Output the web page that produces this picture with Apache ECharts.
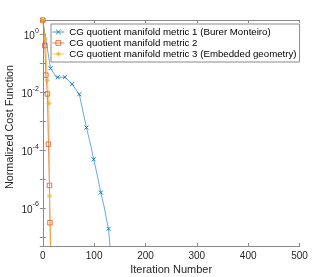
<!DOCTYPE html>
<html><head><meta charset="utf-8">
<script src="https://cdn.jsdelivr.net/npm/echarts@6/dist/echarts.min.js"></script>
<style>html,body{margin:0;padding:0;background:#fff}#c{width:332px;height:277px}</style>
</head><body><div id="c"></div>
<script>
const seriesNames = [
  'CG quotient manifold metric 1 (Burer Monteiro)',
  'CG quotient manifold metric 2',
  'CG quotient manifold metric 3 (Embedded geometry)'
];
const xTicks = [0, 100, 200, 300, 400, 500];
const yLabelExponents = [0, -2, -4, -6];

const blueIter   = [0, 15, 26, 29, 43, 57, 71, 85, 94, 99, 104, 113, 120, 124, 128, 132];
const blueValue  = [3.1, 0.067, 0.033, 0.033, 0.033, 0.019, 0.0085, 6.0e-4, 1.3e-4, 4.8e-5, 2.0e-5, 3.4e-6, 1.0e-6, 4.2e-7, 1.9e-7, 2.9e-8];
const blueMarker = [1, 1, 0, 1, 1, 1, 1, 1, 0, 1, 0, 1, 0, 0, 1, 0];

const orangeIter   = [0, 4, 6, 9, 11, 13, 14, 16];
const orangeValue  = [3.1, 0.41, 0.039, 0.0087, 1.6e-4, 6e-6, 3.1e-7, 2e-8];
const orangeMarker = [1, 1, 1, 1, 1, 1, 1, 0];

const yellowIter   = [0, 5, 9, 12, 13, 15];
const yellowValue  = [3.1, 0.68, 0.026, 0.0041, 2.6e-6, 3e-8];
const yellowMarker = [1, 1, 1, 1, 1, 0];

const BLUE = '#0072BD', ORANGE = '#D95319', YELLOW = '#EDB120';
const AX = '#8a8a8a', TXT = '#262626';
const FONT = '"Liberation Sans", Arial, Helvetica, sans-serif';

function build(iters, vals, marks) {
  return iters.map((x, i) => marks[i] ? [x, vals[i]] : {value: [x, vals[i]], symbol: 'none'});
}

const chart = echarts.init(document.getElementById('c'), null, {renderer: 'canvas'});
const yFmt = v => {
  const l = Math.log10(v); const e = Math.round(l);
  if (Math.abs(l - e) > 1e-6 || yLabelExponents.indexOf(e) < 0) return '';
  return '{b|10}{s|' + e + '}';
};
const xAxisBase = {
  type: 'value', min: xTicks[0], max: xTicks[xTicks.length - 1], interval: 100,
  axisLine: {show: true, lineStyle: {color: AX, width: 1}},
  axisTick: {show: true, inside: true, length: 3, lineStyle: {color: AX}},
  splitLine: {show: false}
};
const yAxisBase = {
  type: 'log', min: 4.86e-8, max: 3.12, logBase: 10,
  axisLine: {show: true, lineStyle: {color: AX, width: 1}},
  axisTick: {show: true, inside: true, length: 3, lineStyle: {color: AX}},
  splitLine: {show: false}
};
chart.setOption({
  animation: false,
  backgroundColor: '#fff',
  textStyle: {fontFamily: FONT},
  grid: {left: 42.8, right: 32.5, top: 20, bottom: 31, containLabel: false, outerBoundsMode: 'none'},
  xAxis: [
    Object.assign({}, xAxisBase, {
      position: 'bottom',
      name: 'Iteration Number', nameLocation: 'middle', nameGap: 18, nameMoveOverlap: false,
      nameTextStyle: {fontSize: 11, color: TXT, fontFamily: FONT},
      axisLabel: {fontSize: 10, color: TXT, margin: 5, fontFamily: FONT}
    }),
    Object.assign({}, xAxisBase, {position: 'top', axisLabel: {show: false}})
  ],
  yAxis: [
    Object.assign({}, yAxisBase, {
      position: 'left',
      name: 'Normalized Cost Function', nameLocation: 'middle', nameGap: 27, nameMoveOverlap: false,
      nameTextStyle: {fontSize: 10.8, color: TXT, fontFamily: FONT, padding: [0, 0, 0, 12]},
      axisLabel: {
        interval: 0, margin: 4, formatter: yFmt, color: TXT, fontFamily: FONT,
        rich: {
          b: {fontSize: 10, color: TXT, lineHeight: 14, verticalAlign: 'bottom', fontFamily: FONT},
          s: {fontSize: 7, color: TXT, lineHeight: 7, verticalAlign: 'top', fontFamily: FONT}
        }
      }
    }),
    Object.assign({}, yAxisBase, {position: 'right', axisLabel: {show: false}})
  ],
  legend: {
    left: 51, top: 24, orient: 'vertical',
    itemWidth: 12, itemHeight: 6, itemGap: 1,
    padding: [3, 3, 3, 1],
    borderColor: AX, borderWidth: 1, backgroundColor: '#fff',
    lineStyle: {width: 0.7},
    itemStyle: {borderWidth: 0.8},
    textStyle: {fontSize: 9.7, color: '#000', fontFamily: FONT},
    data: seriesNames
  },
  series: [
    {
      name: seriesNames[0], type: 'line', data: build(blueIter, blueValue, blueMarker),
      symbol: 'path://M0,0L10,10M10,0L0,10', symbolSize: 4,
      itemStyle: {color: BLUE, borderColor: BLUE, borderWidth: 0.9},
      lineStyle: {color: BLUE, width: 0.6}, clip: true, z: 2
    },
    {
      name: seriesNames[1], type: 'line', data: build(orangeIter, orangeValue, orangeMarker),
      symbol: 'rect', symbolSize: 4.5,
      itemStyle: {color: 'rgba(0,0,0,0)', borderColor: ORANGE, borderWidth: 0.8},
      lineStyle: {color: ORANGE, width: 0.7}, clip: true, z: 3
    },
    {
      name: seriesNames[2], type: 'line', data: build(yellowIter, yellowValue, yellowMarker),
      symbol: 'path://M5,0L5,10M0,5L10,5M1.5,1.5L8.5,8.5M1.5,8.5L8.5,1.5', symbolSize: 5,
      itemStyle: {color: YELLOW, borderColor: YELLOW, borderWidth: 0.8},
      lineStyle: {color: YELLOW, width: 0.7}, clip: true, z: 4
    }
  ]
});
</script></body></html>
